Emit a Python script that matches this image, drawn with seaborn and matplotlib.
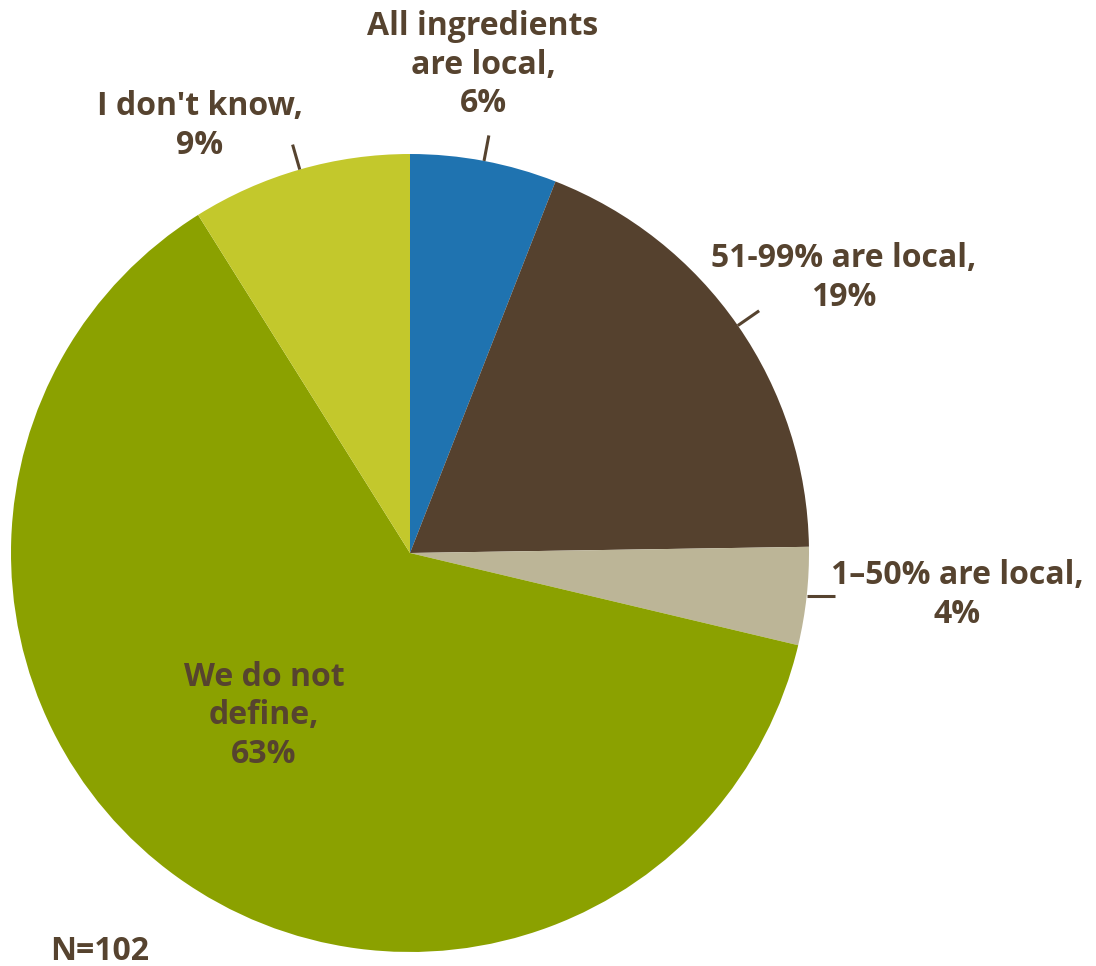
import numpy as np
import matplotlib
matplotlib.use("Agg")
import matplotlib.pyplot as plt
import seaborn as sns

# Survey: how the operation defines "local" ingredients (N=102)
categories = ["All ingredients\nare local,", "51-99% are local,", "1\u201350% are local,",
              "We do not\ndefine,", "I don't know,"]
shares = [6, 19, 4, 63, 9]
colors = ["#1f73b0", "#55412e", "#bcb597", "#8ba100", "#c3c82c"]
sample_note = "N=102"

sns.set_theme(style="white")
plt.rcParams["font.family"] = ["Open Sans", "DejaVu Sans"]

W, H = 1096, 966
fig = plt.figure(figsize=(W / 100, H / 100), dpi=100)
ax = fig.add_axes([0, 0, 1, 1])

cx, cy, R = 410, H - 553, 399
wedges, _ = ax.pie(shares, colors=colors, startangle=90, counterclock=False,
                   center=(cx, cy), radius=R, wedgeprops=dict(linewidth=0))
ax.set_xlim(0, W)
ax.set_ylim(0, H)
ax.set_aspect("equal")
ax.axis("off")

text_color = "#56432f"
label_kw = dict(fontsize=23, fontweight="bold", color=text_color, ha="center",
                va="center", multialignment="center", linespacing=1.22)

# Label anchor points (pixels from the top-left) for each slice
label_pos = [(483, 65), (844, 278), (957, 595), (264, 716), (200, 126)]
inside = [False, False, False, True, False]
horizontal_leader = [False, False, True, False, False]

for wedge, cat, val, (lx, ly), ins, hz in zip(wedges, categories, shares,
                                              label_pos, inside, horizontal_leader):
    ax.text(lx, H - ly, f"{cat}\n{val}%", **label_kw)
    if not ins:
        mid = np.deg2rad((wedge.theta1 + wedge.theta2) / 2)
        x0, y0 = cx + R * np.cos(mid), cy + R * np.sin(mid)
        if hz:
            x1, y1 = x0 + 28, y0
        else:
            x1, y1 = cx + R * 1.065 * np.cos(mid), cy + R * 1.065 * np.sin(mid)
        ax.plot([x0, x1], [y0, y1], color=text_color, lw=2.2, solid_capstyle="butt")

ax.text(50, H - 951, sample_note, fontsize=23, fontweight="bold",
        color=text_color, ha="left", va="center")

fig.savefig("out.png", dpi=100, facecolor="white")
